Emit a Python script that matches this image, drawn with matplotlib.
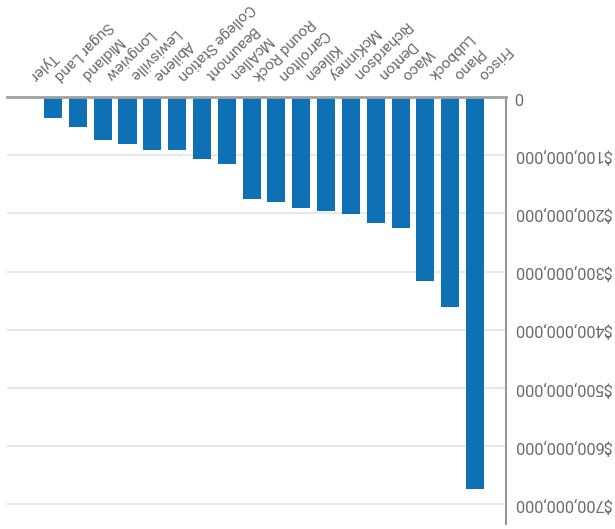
import matplotlib
matplotlib.use('Agg')
import matplotlib.pyplot as plt
import matplotlib.transforms as mtransforms
from matplotlib.ticker import FuncFormatter

plt.rcParams['font.family'] = ['Roboto', 'DejaVu Sans']

# Data (chart is shown rotated 180 degrees: Tyler at left, Frisco at right)
cities = ['Tyler', 'Sugar Land', 'Midland', 'Longview', 'Lewisville', 'Abilene',
          'College Station', 'Beaumont', 'McAllen', 'Round Rock', 'Carrollton',
          'Killeen', 'McKinney', 'Richardson', 'Denton', 'Waco', 'Lubbock',
          'Plano', 'Frisco']
amounts = [0, 35.6e6, 51.1e6, 74.0e6, 80.3e6, 91.2e6, 91.2e6, 106.6e6, 115.2e6,
           174.9e6, 180.6e6, 190.9e6, 195.5e6, 200.7e6, 216.2e6, 224.8e6,
           315.9e6, 360.6e6, 674.2e6]
y_ticks = [0, 100e6, 200e6, 300e6, 400e6, 500e6, 600e6, 700e6]

text_color = '#6b6b6b'

fig = plt.figure(figsize=(6.15, 5.29), dpi=100)
ax = fig.add_axes([7 / 615, 1 - 524 / 529, 499 / 615, 427 / 529])

x = list(range(len(cities)))
ax.bar(x, amounts, width=0.726, color='#0e70b5', zorder=2)

ax.set_xlim(-0.855, 19.25)
ax.set_ylim(734e6, 0)

# y axis on the right, labels upside down
ax.yaxis.tick_right()
ax.set_yticks(y_ticks)
ax.yaxis.set_major_formatter(FuncFormatter(lambda v, p: '0' if v == 0 else '${:,.0f}'.format(v)))
ax.tick_params(axis='y', length=0, pad=6, labelsize=11.8, labelcolor=text_color)
for lbl in ax.get_yticklabels():
    lbl.set(rotation=180, ha='right', va='center', rotation_mode='anchor')

# x axis on top, labels upside down and slanted
ax.xaxis.tick_top()
ax.set_xticks(x)
ax.set_xticklabels(cities)
ax.tick_params(axis='x', length=0, pad=6, labelsize=11, labelcolor=text_color)
shift = mtransforms.ScaledTranslation(0.08, 0.055, fig.dpi_scale_trans)
for lbl in ax.get_xticklabels():
    lbl.set(rotation=225, ha='right', va='top', rotation_mode='anchor')
    lbl.set_transform(lbl.get_transform() + shift)

ax.grid(axis='y', color='#e8e8e8', linewidth=1.5, zorder=1)
ax.set_axisbelow(True)

for s in ['left', 'bottom']:
    ax.spines[s].set_visible(False)
ax.spines['top'].set_color('#a0a0a0')
ax.spines['top'].set_linewidth(2)
ax.spines['right'].set_color('#8a8a8a')
ax.spines['right'].set_linewidth(1.3)

fig.savefig('out.png', dpi=100)
